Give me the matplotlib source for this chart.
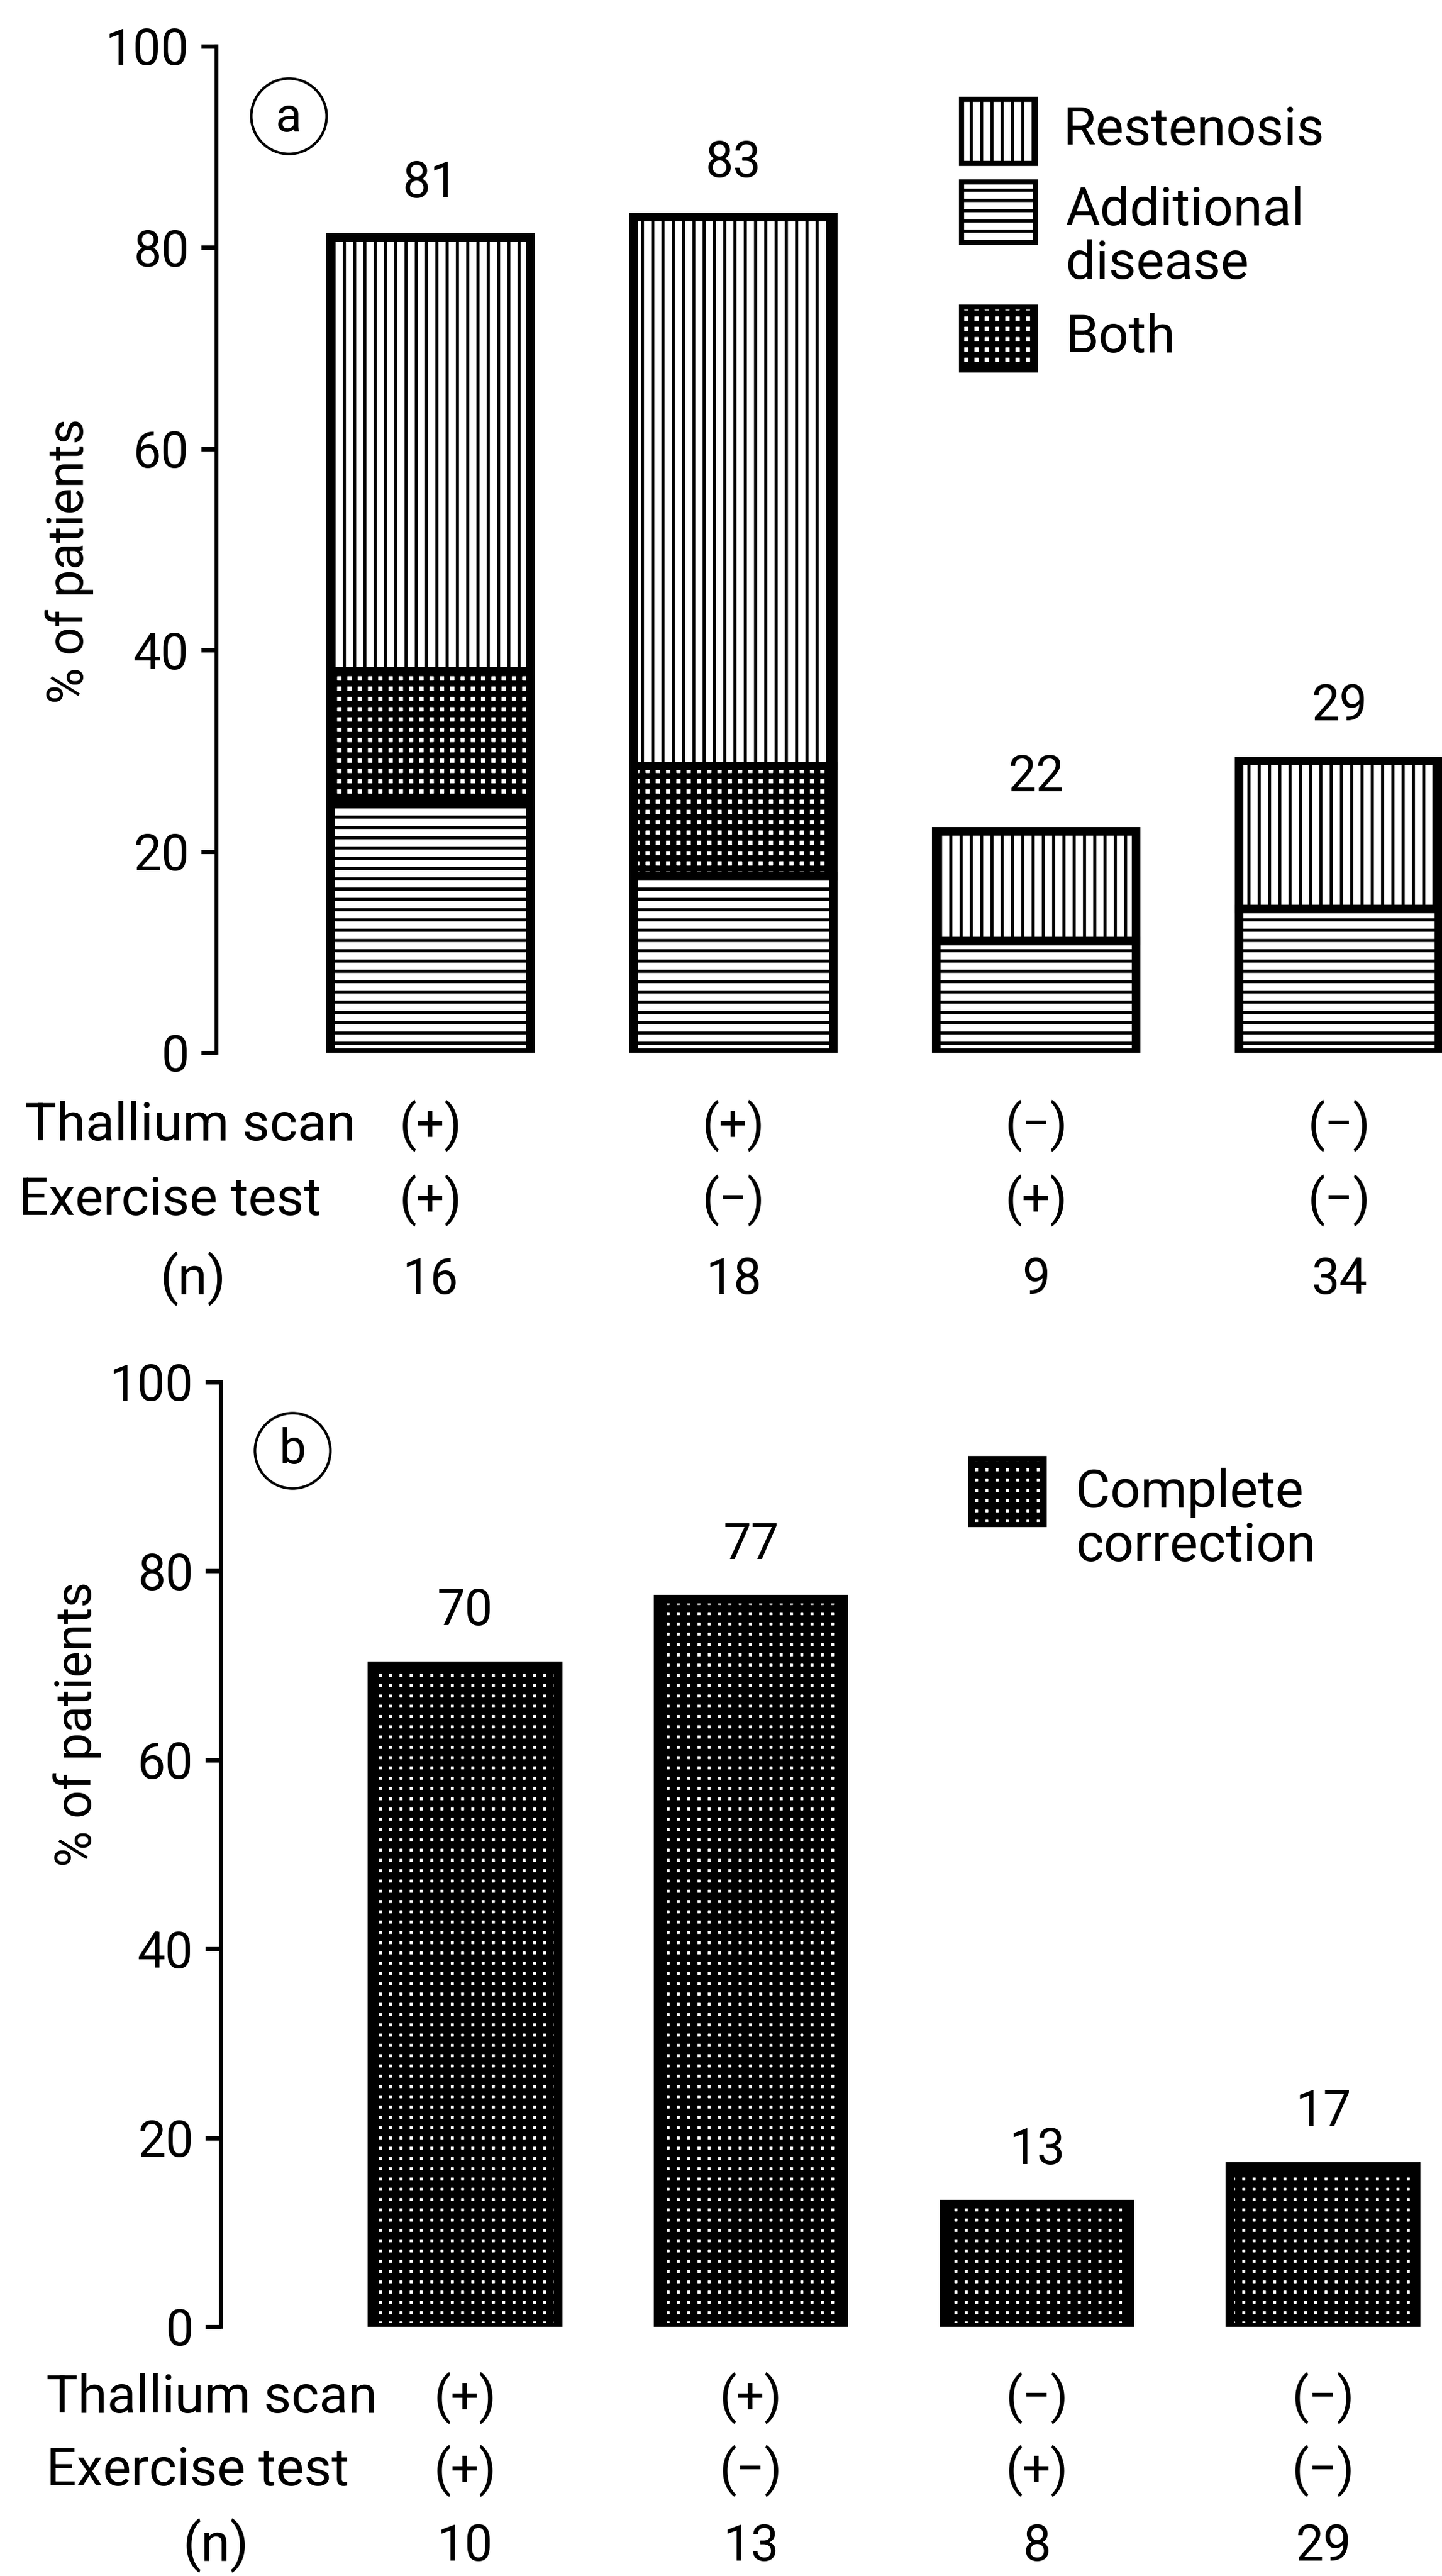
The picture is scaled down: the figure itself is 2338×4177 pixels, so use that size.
import matplotlib.pyplot as plt
from matplotlib.patches import Rectangle
from matplotlib.lines import Line2D
from matplotlib import transforms

plt.rcParams['font.family'] = ['Roboto', 'DejaVu Sans']
plt.rcParams['font.size'] = 58

# panel a: % of patients per group, stacked
additional = [24.9, 17.5, 11.1, 14.3]
both = [13.0, 11.0, 0.0, 0.0]
restenosis = [43.1, 54.5, 10.9, 14.7]
totals_a = [81, 83, 22, 29]
n_a = [16, 18, 9, 34]

# panel b: complete correction
correction = [70, 77, 13, 17]
n_b = [10, 13, 8, 29]

thallium = ['(+)', '(+)', '(\u2212)', '(\u2212)']
exercise = ['(+)', '(\u2212)', '(+)', '(\u2212)']
xpos = [0, 1, 2, 3]

W, H = 2338, 4177
fig = plt.figure(figsize=(W / 100, H / 100), dpi=100)
TXT = 62  # word labels


def fx(px):
    return px / W


def fy(py):
    return 1 - py / H


def hatched(ax, x, h, bottom, width, hatch, hlw):
    # hatch layer, then a plain black outline on top
    with plt.rc_context({'hatch.linewidth': hlw}):
        bars = ax.bar(x, h, width, bottom=bottom, color='white',
                      edgecolor='black', hatch=hatch, linewidth=0)
    for b in bars:
        if hasattr(b, 'set_hatch_linewidth'):
            b.set_hatch_linewidth(hlw)
    ax.bar(x, h, width, bottom=bottom, fill=False, edgecolor='black',
           linewidth=10)


def legend_box(x0, y0, x1, y1, hatch, hlw):
    with plt.rc_context({'hatch.linewidth': hlw}):
        r = Rectangle((fx(x0), fy(y1)), fx(x1) - fx(x0), fy(y0) - fy(y1),
                      transform=fig.transFigure, facecolor='white',
                      edgecolor='black', hatch=hatch, linewidth=0)
    if hasattr(r, 'set_hatch_linewidth'):
        r.set_hatch_linewidth(hlw)
    fig.add_artist(r)
    fig.add_artist(Rectangle((fx(x0), fy(y1)), fx(x1) - fx(x0), fy(y0) - fy(y1),
                             transform=fig.transFigure, fill=False,
                             edgecolor='black', linewidth=6))


def style_axis(ax):
    for s in ['top', 'right', 'bottom']:
        ax.spines[s].set_visible(False)
    ax.spines['left'].set_linewidth(4.5)
    ax.spines['left'].set_bounds(0, 100)
    ax.set_ylim(0, 100)
    ax.set_yticks([0, 20, 40, 60, 80, 100])
    ax.tick_params(axis='y', length=18, width=5, pad=14, labelsize=58)
    ax.set_xticks([])
    ax.patch.set_alpha(0)


# ---- panel a ----
ax_a = fig.add_axes([fx(351), fy(1707), 1 - fx(351), fy(75) - fy(1707)])
style_axis(ax_a)
ax_a.set_xlim(-0.707, 3.34)
wa = 0.66
hatched(ax_a, xpos, additional, 0, wa, '-', 3.6)
hatched(ax_a, xpos[:2], both[:2], additional[:2], wa, '+', 7)
bot3 = [a + b for a, b in zip(additional, both)]
hatched(ax_a, xpos, restenosis, bot3, wa, '|', 3.6)
for x, t in zip(xpos, totals_a):
    ax_a.annotate(str(t), (x, t), xytext=(0, 47), textcoords='offset points',
                  ha='center', va='baseline')

fig.add_artist(Line2D([fx(468)], [fy(188)], marker='o', markersize=88,
                      mfc='none', mec='black', mew=3, transform=fig.transFigure))
fig.text(fx(468), fy(191), 'a', ha='center', va='center', fontsize=56)

fig.text(fx(112), fy(910), '% of patients', rotation=90, ha='center',
         va='center', fontsize=58)

legend_box(1559, 161, 1679, 265, '|', 3.6)
legend_box(1559, 295, 1679, 393, '-', 3.6)
legend_box(1559, 498, 1679, 600, '+', 7)
fig.text(fx(1724), fy(212), 'Restenosis', ha='left', va='center', fontsize=TXT)
fig.text(fx(1728), fy(385), 'Additional\ndisease', ha='left', va='center',
         fontsize=TXT, linespacing=1.1)
fig.text(fx(1728), fy(547), 'Both', ha='left', va='center', fontsize=TXT)

tra = transforms.blended_transform_factory(ax_a.transData, fig.transFigure)
fig.text(fx(40), fy(1849), 'Thallium scan', ha='left', va='baseline', fontsize=TXT)
fig.text(fx(30), fy(1970), 'Exercise test', ha='left', va='baseline', fontsize=TXT)
fig.text(fx(313), fy(2098), '(n)', ha='center', va='baseline', fontsize=TXT)
for x, t, e, n in zip(xpos, thallium, exercise, n_a):
    ax_a.text(x, fy(1849), t, transform=tra, ha='center', va='baseline')
    ax_a.text(x, fy(1970), e, transform=tra, ha='center', va='baseline')
    ax_a.text(x, fy(2098), str(n), transform=tra, ha='center', va='baseline')

# ---- panel b ----
ax_b = fig.add_axes([fx(358), fy(3773), 1 - fx(358), fy(2241) - fy(3773)])
style_axis(ax_b)
ax_b.set_xlim(-0.854, 3.416)
hatched(ax_b, xpos, correction, 0, 0.65, '+', 8.5)
for x, t in zip(xpos, correction):
    ax_b.annotate(str(t), (x, t), xytext=(0, 47), textcoords='offset points',
                  ha='center', va='baseline')

fig.add_artist(Line2D([fx(474)], [fy(2352)], marker='o', markersize=88,
                      mfc='none', mec='black', mew=3, transform=fig.transFigure))
fig.text(fx(474), fy(2352), 'b', ha='center', va='center', fontsize=56)

fig.text(fx(125), fy(2796), '% of patients', rotation=90, ha='center',
         va='center', fontsize=58)

legend_box(1574, 2365, 1693, 2472, '+', 8.5)
fig.text(fx(1744), fy(2464), 'Complete\ncorrection', ha='left', va='center',
         fontsize=TXT, linespacing=1.1)

trb = transforms.blended_transform_factory(ax_b.transData, fig.transFigure)
fig.text(fx(75), fy(3912), 'Thallium scan', ha='left', va='baseline', fontsize=TXT)
fig.text(fx(75), fy(4030), 'Exercise test', ha='left', va='baseline', fontsize=TXT)
fig.text(fx(350), fy(4152), '(n)', ha='center', va='baseline', fontsize=TXT)
for x, t, e, n in zip(xpos, thallium, exercise, n_b):
    ax_b.text(x, fy(3912), t, transform=trb, ha='center', va='baseline')
    ax_b.text(x, fy(4030), e, transform=trb, ha='center', va='baseline')
    ax_b.text(x, fy(4152), str(n), transform=trb, ha='center', va='baseline')

fig.savefig('out.png', dpi=100, facecolor='white')
